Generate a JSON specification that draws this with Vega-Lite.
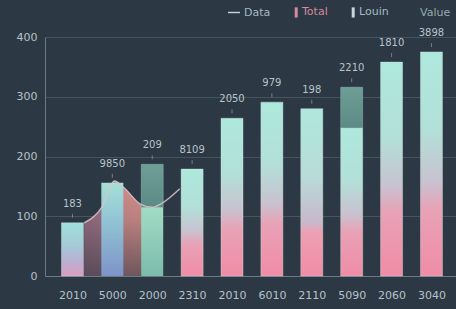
{
  "$schema": "https://vega.github.io/schema/vega-lite/v6.json",
  "width": 411,
  "height": 239,
  "autosize": {"type": "none"},
  "padding": {"left": 45, "top": 37, "right": 0, "bottom": 33},
  "background": "#2c3843",
  "config": {
    "view": {"stroke": null},
    "font": "DejaVu Sans",
    "axis": {
      "domainColor": "#6c7a84",
      "gridColor": "#46545e",
      "labelColor": "#b6c2ca",
      "labelFont": "DejaVu Sans",
      "labelFontSize": 11,
      "ticks": false,
      "tickSize": 0,
      "title": null
    }
  },
  "datasets": {
    "bars": [
      {"idx": 1, "year": "2010", "value": 89, "light": 89, "label": "183"},
      {"idx": 2, "year": "5000", "value": 156, "light": 156, "label": "9850"},
      {"idx": 3, "year": "2000", "value": 187, "light": 115, "label": "209"},
      {"idx": 4, "year": "2310", "value": 179, "light": 179, "label": "8109"},
      {"idx": 5, "year": "2010", "value": 264, "light": 264, "label": "2050"},
      {"idx": 6, "year": "6010", "value": 291, "light": 291, "label": "979"},
      {"idx": 7, "year": "2110", "value": 280, "light": 280, "label": "198"},
      {"idx": 8, "year": "5090", "value": 316, "light": 248, "label": "2210"},
      {"idx": 9, "year": "2060", "value": 358, "light": 358, "label": "1810"},
      {"idx": 10, "year": "3040", "value": 375, "light": 375, "label": "3898"}
    ],
    "curve": [
      {"pos": 1.293, "value": 89},
      {"pos": 1.734, "value": 115},
      {"pos": 2.052, "value": 159},
      {"pos": 2.272, "value": 149},
      {"pos": 2.712, "value": 120},
      {"pos": 3.005, "value": 115},
      {"pos": 3.25, "value": 122},
      {"pos": 3.69, "value": 146}
    ],
    "legend": [
      {"series": "Data"},
      {"series": "Total"},
      {"series": "Louin"},
      {"series": "Value"}
    ]
  },
  "layer": [
    {
      "data": {"name": "curve"},
      "transform": [{"filter": "datum.pos <= 3.3"}],
      "mark": {
        "type": "area",
        "interpolate": "monotone",
        "color": {
          "gradient": "linear", "x1": 0, "y1": 0, "x2": 1, "y2": 0,
          "stops": [
            {"offset": 0, "color": "#9a6e80"},
            {"offset": 0.22, "color": "#a07484"},
            {"offset": 0.5, "color": "#d08c8a"},
            {"offset": 0.72, "color": "#d48e8a"},
            {"offset": 1, "color": "#8fcab8"}
          ]
        }
      },
      "encoding": {
        "x": {"field": "pos", "type": "quantitative", "scale": {"domain": [0.4375, 10.49], "nice": false, "zero": false},
          "axis": {"values": [1, 2, 3, 4, 5, 6, 7, 8, 9, 10], "grid": false, "labelPadding": 13,
            "labelExpr": "['2010','5000','2000','2310','2010','6010','2110','5090','2060','3040'][round(datum.value)-1]"}},
        "y": {"field": "value", "type": "quantitative", "scale": {"domain": [0, 400], "nice": false},
          "axis": {"values": [0, 100, 200, 300, 400], "grid": true, "labelPadding": 8}}
      }
    },
    {
      "data": {"name": "curve"},
      "transform": [{"filter": "datum.pos <= 3.3"}],
      "mark": {
        "type": "area",
        "interpolate": "monotone",
        "color": {
          "gradient": "linear", "x1": 0, "y1": 0, "x2": 0, "y2": 1,
          "stops": [
            {"offset": 0, "color": "rgba(44,50,64,0)"},
            {"offset": 0.4, "color": "rgba(44,50,64,0.15)"},
            {"offset": 1, "color": "rgba(44,50,64,0.6)"}
          ]
        }
      },
      "encoding": {
        "x": {"field": "pos", "type": "quantitative"},
        "y": {"field": "value", "type": "quantitative"}
      }
    },
    {
      "data": {"name": "bars"},
      "transform": [{"filter": "datum.idx == 1"}],
      "mark": {"type": "bar", "size": 22, "stroke": "#d2e4e4", "strokeWidth": 0.8, "strokeOpacity": 0.5, "color": {
        "gradient": "linear", "x1": 0, "y1": 0, "x2": 0, "y2": 1,
        "stops": [
          {"offset": 0, "color": "#9fe0da"},
          {"offset": 0.45, "color": "#a6c8d8"},
          {"offset": 0.75, "color": "#bcaed0"},
          {"offset": 1, "color": "#dc9cc0"}
        ]}},
      "encoding": {"x": {"field": "idx", "type": "quantitative"}, "y": {"field": "light", "type": "quantitative"}}
    },
    {
      "data": {"name": "bars"},
      "transform": [{"filter": "datum.idx == 2"}],
      "mark": {"type": "bar", "size": 22, "color": {
        "gradient": "linear", "x1": 0, "y1": 0, "x2": 0, "y2": 1,
        "stops": [
          {"offset": 0, "color": "#a4e0d6"},
          {"offset": 0.4, "color": "#92c4d4"},
          {"offset": 1, "color": "#7d94c8"}
        ]}},
      "encoding": {"x": {"field": "idx", "type": "quantitative"}, "y": {"field": "light", "type": "quantitative"}}
    },
    {
      "data": {"name": "bars"},
      "transform": [{"filter": "datum.idx == 3"}],
      "mark": {"type": "bar", "size": 22, "color": {
        "gradient": "linear", "x1": 0, "y1": 0, "x2": 0, "y2": 1,
        "stops": [
          {"offset": 0, "color": "#a2dcc6"},
          {"offset": 1, "color": "#7cbcaa"}
        ]}},
      "encoding": {"x": {"field": "idx", "type": "quantitative"}, "y": {"field": "light", "type": "quantitative"}}
    },
    {
      "data": {"name": "bars"},
      "transform": [{"filter": "datum.idx >= 4 && datum.idx != 7"}],
      "mark": {"type": "bar", "size": 22, "stroke": "#d2e4e4", "strokeWidth": 0.8, "strokeOpacity": 0.5, "color": {
        "gradient": "linear", "x1": 0, "y1": 0, "x2": 0, "y2": 1,
        "stops": [
          {"offset": 0, "color": "#aee8dc"},
          {"offset": 0.35, "color": "#b2e0d8"},
          {"offset": 0.58, "color": "#c8c2d0"},
          {"offset": 0.7, "color": "#e8a2b6"},
          {"offset": 1, "color": "#f08ca6"}
        ]}},
      "encoding": {"x": {"field": "idx", "type": "quantitative"}, "y": {"field": "light", "type": "quantitative"}}
    },
    {
      "data": {"name": "bars"},
      "transform": [{"filter": "datum.idx == 7"}],
      "mark": {"type": "bar", "size": 22, "stroke": "#d2e4e4", "strokeWidth": 0.8, "strokeOpacity": 0.5, "color": {
        "gradient": "linear", "x1": 0, "y1": 0, "x2": 0, "y2": 1,
        "stops": [
          {"offset": 0, "color": "#aee8dc"},
          {"offset": 0.4, "color": "#b8dcd8"},
          {"offset": 0.68, "color": "#c8b8cc"},
          {"offset": 0.74, "color": "#eea0b2"},
          {"offset": 1, "color": "#f08ca6"}
        ]}},
      "encoding": {"x": {"field": "idx", "type": "quantitative"}, "y": {"field": "light", "type": "quantitative"}}
    },
    {
      "data": {"name": "bars"},
      "transform": [{"filter": "datum.light < datum.value"}],
      "mark": {"type": "bar", "size": 22, "stroke": "#9cc0bc", "strokeWidth": 0.8, "strokeOpacity": 0.5, "color": {
        "gradient": "linear", "x1": 0, "y1": 0, "x2": 0, "y2": 1,
        "stops": [
          {"offset": 0, "color": "#6e9e96"},
          {"offset": 1, "color": "#5c8b85"}
        ]}},
      "encoding": {"x": {"field": "idx", "type": "quantitative"}, "y": {"field": "value", "type": "quantitative"}, "y2": {"field": "light"}}
    },
    {
      "data": {"name": "curve"},
      "mark": {"type": "line", "interpolate": "monotone", "color": "#d6c4cc", "strokeWidth": 1.5, "opacity": 0.85},
      "encoding": {
        "x": {"field": "pos", "type": "quantitative"},
        "y": {"field": "value", "type": "quantitative"}
      }
    },
    {
      "data": {"name": "bars"},
      "mark": {"type": "tick", "orient": "vertical", "size": 4, "thickness": 1, "color": "#8e9ca6", "yOffset": -7},
      "encoding": {"x": {"field": "idx", "type": "quantitative"}, "y": {"field": "value", "type": "quantitative"}}
    },
    {
      "data": {"name": "bars"},
      "mark": {"type": "text", "dy": -19, "baseline": "middle", "fontSize": 10, "color": "#b8c4cc", "font": "DejaVu Sans"},
      "encoding": {"x": {"field": "idx", "type": "quantitative"}, "y": {"field": "value", "type": "quantitative"}, "text": {"field": "label"}}
    },
    {
      "data": {"name": "legend"},
      "mark": {"type": "point", "opacity": 0, "filled": true},
      "encoding": {
        "color": {
          "field": "series", "type": "nominal",
          "scale": {"domain": ["Data", "Total", "Louin", "Value"], "range": ["#c8d0d8", "#d9899a", "#c8d4d8", "#2c3843"]},
          "legend": {
            "title": null,
            "orient": "none",
            "direction": "horizontal",
            "legendX": 183,
            "legendY": -31,
            "symbolSize": 144,
            "symbolOpacity": 1,
            "symbolStrokeWidth": 0,
            "labelFontSize": 11,
            "labelFont": "DejaVu Sans",
            "labelOffset": 4,
            "columnPadding": 15,
            "labelColor": "#a8b8c4",
            "encode": {
              "labels": {"update": {
                "fill": {"signal": "datum.label === 'Total' ? '#d8899a' : datum.label === 'Value' ? '#98a8b2' : '#a8b8c4'"}
              }}
            }
          }
        },
        "shape": {
          "field": "series", "type": "nominal",
          "scale": {"domain": ["Data", "Total", "Louin", "Value"], "range": [
            "M-1,-0.12L1,-0.12L1,0.12L-1,0.12Z",
            "M0.45,-0.85L0.95,-0.85L0.95,0.85L0.45,0.85Z",
            "M0.45,-0.85L0.95,-0.85L0.95,0.85L0.45,0.85Z",
            "M0.9,0L0.95,0L0.95,0.05Z"
          ]},
          "legend": null
        }
      }
    }
  ]
}
